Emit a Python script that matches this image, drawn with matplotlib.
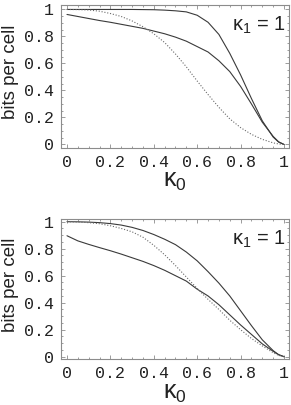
import numpy as np
import matplotlib
matplotlib.use("Agg")
import matplotlib.pyplot as plt
from matplotlib.ticker import MultipleLocator

plt.rcParams['mathtext.fontset'] = 'custom'
plt.rcParams['mathtext.rm'] = 'Liberation Sans'
plt.rcParams['mathtext.it'] = 'Liberation Sans'
plt.rcParams['mathtext.default'] = 'rm'

# ---- data ----
k0 = [0.0, 0.05, 0.1, 0.15, 0.2, 0.25, 0.3, 0.35, 0.4, 0.45, 0.5,
      0.55, 0.6, 0.65, 0.7, 0.75, 0.8, 0.85, 0.9, 0.95, 0.975, 1.0]

top_a = [1.0, 1.0, 1.0, 1.0, 1.0, 1.0, 1.0, 0.999, 0.998, 0.995, 0.99,
         0.982, 0.957, 0.905, 0.815, 0.675, 0.515, 0.34, 0.175, 0.055, 0.018, 0.0]
top_b = [0.963, 0.948, 0.933, 0.918, 0.905, 0.89, 0.875, 0.86, 0.84, 0.82, 0.795,
         0.765, 0.725, 0.685, 0.62, 0.54, 0.43, 0.30, 0.165, 0.06, 0.02, 0.0]
top_dot = [1.0, 0.999, 0.996, 0.987, 0.97, 0.948, 0.915, 0.872, 0.82, 0.755, 0.67,
           0.575, 0.47, 0.37, 0.275, 0.19, 0.125, 0.075, 0.038, 0.012, 0.004, 0.0]

bot_a = [1.0, 0.999, 0.997, 0.993, 0.986, 0.975, 0.958, 0.935, 0.905, 0.87, 0.83,
         0.775, 0.71, 0.63, 0.545, 0.45, 0.34, 0.23, 0.125, 0.045, 0.015, 0.0]
bot_b = [0.896, 0.858, 0.832, 0.808, 0.785, 0.76, 0.733, 0.706, 0.675, 0.64, 0.60,
         0.56, 0.50, 0.45, 0.385, 0.31, 0.235, 0.165, 0.095, 0.04, 0.015, 0.0]
bot_dot = [1.0, 0.998, 0.993, 0.985, 0.97, 0.95, 0.925, 0.885, 0.825, 0.755, 0.675,
           0.59, 0.505, 0.425, 0.35, 0.27, 0.20, 0.135, 0.08, 0.03, 0.01, 0.0]

xticks = [0, 0.2, 0.4, 0.6, 0.8, 1]
xticklabels = ["0", "0.2", "0.4", "0.6", "0.8", "1"]
yticks = [0, 0.2, 0.4, 0.6, 0.8, 1]
yticklabels = ["0", "0.2", "0.4", "0.6", "0.8", "1"]
annot = "κ$_1$ = 1"
xlab = "κ$_0$"
ylab = "bits per cell"

W, H = 291, 405
fig = plt.figure(figsize=(W / 100, H / 100), dpi=100)

def px_rect(l, t, r, b):
    return [l / W, 1 - b / H, (r - l) / W, (b - t) / H]

panels = [
    dict(rect=px_rect(61, 5, 289, 148), a=top_a, b=top_b, d=top_dot,
         ylim=(-0.026, 1.033), xlab_y=-0.27),
    dict(rect=px_rect(61, 219, 289, 359), a=bot_a, b=bot_b, d=bot_dot,
         ylim=(-0.017, 1.02), xlab_y=-0.285),
]

frame_col = '#8c8c8c'
line_col = '#3a3a3a'
tick_font = dict(family=['Liberation Mono', 'DejaVu Sans Mono'], size=12)

for p in panels:
    ax = fig.add_axes(p['rect'])
    ax.plot(k0, p['a'], color=line_col, lw=0.8, solid_capstyle='round')
    ax.plot(k0, p['b'], color=line_col, lw=0.8, solid_capstyle='round')
    ax.plot(k0, p['d'], color='#6a6a6a', lw=0.8, linestyle=(0, (1.0, 1.6)))
    ax.set_xlim(-0.0276, 1.023)
    ax.set_ylim(*p['ylim'])
    ax.set_xticks(xticks)
    ax.set_xticklabels(xticklabels, **tick_font)
    ax.set_yticks(yticks)
    ax.set_yticklabels(yticklabels, **tick_font)
    ax.xaxis.set_minor_locator(MultipleLocator(0.05))
    ax.yaxis.set_minor_locator(MultipleLocator(0.05))
    ax.tick_params(which='both', direction='in', top=True, right=True,
                   color=frame_col, width=0.6, labelcolor='#222222')
    ax.tick_params(which='major', length=2.6, pad=5)
    ax.tick_params(which='minor', length=1.3)
    for s in ax.spines.values():
        s.set_color(frame_col)
        s.set_linewidth(0.8)
    ax.set_xlabel(xlab, fontsize=18, family='Liberation Sans', color='#222222',
                  va='baseline')
    ax.xaxis.set_label_coords(0.5, p['xlab_y'])
    ax.set_ylabel(ylab, fontsize=13.5, family='Liberation Sans', color='#222222',
                  va='center')
    ax.yaxis.set_label_coords(-0.222, 0.53)
    ax.text(0.987, 0.93, annot, transform=ax.transAxes, ha='right', va='top',
            fontsize=14.5, family='Liberation Sans', color='#222222')

fig.savefig('out.png', dpi=100)
